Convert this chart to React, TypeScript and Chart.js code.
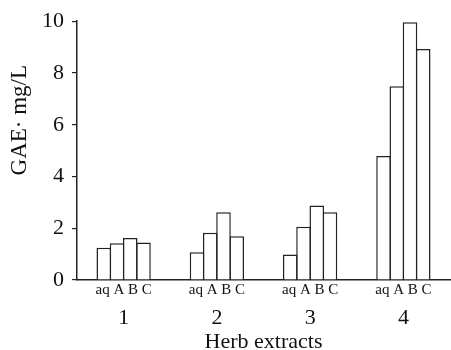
import React, { useEffect, useRef } from "react";
import { Chart, registerables } from "chart.js";

Chart.register(...registerables);

const groups = ["1", "2", "3", "4"];
const seriesNames = ["aq", "A", "B", "C"];
const aqValues = [1.25, 1.07, 0.99, 4.79];
const aValues = [1.42, 1.83, 2.06, 7.49];
const bValues = [1.62, 2.62, 2.88, 9.96];
const cValues = [1.45, 1.69, 2.62, 8.93];
const yTicks = [0, 2, 4, 6, 8, 10];
const xTitle = "Herb extracts";
const yTitle = "GAE\u00b7 mg/L";

const FONT = "'Liberation Serif', 'DejaVu Serif', serif";

const yTitlePlugin = {
  id: "yTitlePlugin",
  afterDraw(chart: any) {
    const { ctx, chartArea } = chart;
    ctx.save();
    ctx.translate(chartArea.left - 57, chartArea.top + 99);
    ctx.rotate(-Math.PI / 2);
    ctx.font = `23px ${FONT}`;
    ctx.fillStyle = "#111";
    ctx.textAlign = "center";
    ctx.textBaseline = "middle";
    ctx.fillText(yTitle, 0, 0);
    ctx.restore();
  },
};

export default function App() {
  const ref = useRef<HTMLCanvasElement | null>(null);
  useEffect(() => {
    if (!ref.current) return;
    const subLabel = seriesNames.join(" ");
    const seriesValues = [aqValues, aValues, bValues, cValues];
    const chart = new Chart(ref.current, {
      type: "bar",
      data: {
        labels: groups.map(() => subLabel),
        datasets: seriesNames.map((name, i) => ({
          label: name,
          data: seriesValues[i],
          backgroundColor: "#ffffff",
          borderColor: "#222222",
          borderWidth: 1.5,
          borderSkipped: "bottom",
          inflateAmount: 0,
          barPercentage: 1.1,
          categoryPercentage: 0.568,
          xAxisID: "x",
        })),
      },
      options: {
        animation: false,
        responsive: false,
        layout: { padding: { top: 21, right: 1, left: 0, bottom: 0 } },
        plugins: {
          legend: { display: false },
          tooltip: { enabled: false },
        },
        scales: {
          x: {
            type: "category",
            position: "bottom",
            grid: { display: false, drawTicks: false },
            border: { display: true, color: "#222", width: 1.5 },
            ticks: {
              color: "#111",
              font: { family: FONT, size: 15 },
              padding: 1,
              maxRotation: 0,
              autoSkip: false,
            },
            afterFit: (scale: any) => {
              scale.height = 18;
            },
          },
          x2: {
            type: "category",
            position: "bottom",
            labels: groups,
            grid: { display: false, drawTicks: false },
            border: { display: false },
            ticks: {
              color: "#111",
              font: { family: FONT, size: 22 },
              padding: 7,
              maxRotation: 0,
              autoSkip: false,
            },
            title: {
              display: true,
              text: xTitle,
              color: "#111",
              font: { family: FONT, size: 22, lineHeight: 1 },
              padding: { top: 0, bottom: -3 },
            },
            afterFit: (scale: any) => {
              scale.height = 52;
            },
          },
          y: {
            min: 0,
            max: 10,
            grid: {
              drawOnChartArea: false,
              drawTicks: true,
              tickLength: 5,
              color: "#222",
              lineWidth: 1.2,
            },
            border: { display: true, color: "#222", width: 1.5 },
            ticks: {
              stepSize: 1,
              color: "#111",
              font: { family: FONT, size: 22 },
              padding: 8,
              callback: (v: any) => (yTicks.includes(Number(v)) ? String(v) : ""),
            },
            afterFit: (scale: any) => {
              scale.width = 77;
            },
          },
        },
      },
      plugins: [yTitlePlugin],
    });
    return () => chart.destroy();
  }, []);
  return (
    <div style={{ position: "absolute", left: 0, top: 0, width: 451, height: 350, background: "#fff" }}>
      <canvas ref={ref} width={451} height={350} style={{ display: "block" }} />
    </div>
  );
}
